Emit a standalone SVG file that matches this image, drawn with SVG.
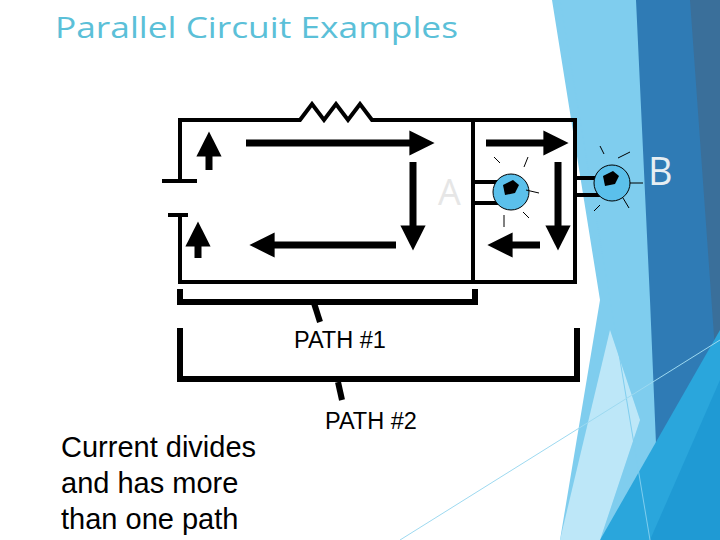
<svg xmlns="http://www.w3.org/2000/svg" width="720" height="540" viewBox="0 0 720 540">
<style>
.w{stroke:#000;stroke-width:4;fill:none}
.b{stroke:#000;stroke-width:6;fill:none}
.a{stroke:#000;stroke-width:7;fill:none}
.r{stroke:#000;stroke-width:1}
.t{font-family:"Liberation Sans",Arial,sans-serif;fill:#000}
</style>
<defs>
<marker id="h" viewBox="0 0 10 10" refX="5" refY="5" markerWidth="3.6" markerHeight="3.6" orient="auto" markerUnits="strokeWidth"><path d="M0,0L10,5L0,10z" fill="#000"/></marker>
</defs>
<rect width="720" height="540" fill="#fff"/>
<g id="background">
<polygon points="552,0 720,0 720,540 560,540 600,300" fill="#7fcdee"/>
<polygon points="636,0 720,0 720,540 660,540 650,300" fill="#2f7bb5"/>
<polygon points="690,0 720,0 720,420" fill="#3a6f9a"/>
<polygon points="720,330 720,540 600,540" fill="#2aa6dc"/>
<polygon points="720,380 720,540 650,540" fill="#1f9ad4"/>
<polygon points="610,330 640,420 600,540 560,540" fill="#cdeefa" opacity="0.8"/>
<line x1="560" y1="0" x2="650" y2="540" stroke="#7fcdee" stroke-width="1"/>
<line x1="400" y1="540" x2="720" y2="340" stroke="#9dd9f0" stroke-width="1"/>
</g>
<text x="55" y="38" font-family="'Open Sans',sans-serif" font-size="30" fill="#5bc0d8" textLength="403" lengthAdjust="spacingAndGlyphs">Parallel Circuit Examples</text>
<g id="connectors">
<path class="w" d="M180,181V120H300l12,-16l12,16l12,-16l12,16l12,-16l12,16H575V282H180V215"/>
<path class="w" d="M473,120V282"/>
<line class="w" x1="162" y1="181" x2="197" y2="181"/>
<line class="w" x1="168" y1="215" x2="188" y2="215"/>
<path class="w" d="M473,182H500M473,203H500"/>
<path class="w" d="M575,178H600M575,195H600"/>
<line class="a" x1="209" y1="170" x2="209" y2="144" marker-end="url(#h)"/>
<line class="a" x1="198" y1="258" x2="198" y2="234" marker-end="url(#h)"/>
<line class="a" x1="246" y1="143" x2="422" y2="143" marker-end="url(#h)"/>
<line class="a" x1="413" y1="162" x2="413" y2="238" marker-end="url(#h)"/>
<line class="a" x1="396" y1="245" x2="262" y2="245" marker-end="url(#h)"/>
<line class="a" x1="486" y1="143" x2="556" y2="143" marker-end="url(#h)"/>
<line class="a" x1="558" y1="162" x2="558" y2="238" marker-end="url(#h)"/>
<line class="a" x1="540" y1="245" x2="500" y2="245" marker-end="url(#h)"/>
<path class="b" d="M180,289V302H475V289"/>
<path class="b" d="M314,303L320,322"/>
<path class="b" d="M180,328V379H577V328"/>
<path class="b" d="M338,382L342,400"/>
</g>
<g id="bulbA">
<circle cx="511" cy="192" r="18" fill="#5bc0eb" stroke="#000"/>
<path d="M503,185l10,-5l6,5l-4,8l-10,2z" fill="#000"/>
<path class="r" d="M494,157l6,6M528,157l-4,10M526,190l13,3M523,212l6,6M504,215v12"/>
<text x="438" y="205" font-family="'Open Sans',sans-serif" font-size="36" fill="#e6e6e6">A</text>
</g>
<g id="bulbB">
<circle cx="612" cy="183" r="18" fill="#5bc0eb" stroke="#000"/>
<path d="M603,176l10,-5l6,5l-4,8l-10,2z" fill="#000"/>
<path class="r" d="M600,146l4,8M618,158l12,-6M630,183h13M623,198l6,10M600,205l-6,6"/>
<text x="648" y="185" font-family="'Open Sans',sans-serif" font-size="38" fill="#e6eef2">B</text>
</g>
<text class="t" x="294" y="348" font-size="23.5">PATH #1</text>
<text class="t" x="325" y="429" font-size="23.5">PATH #2</text>
<text class="t" font-size="29"><tspan x="61" y="457">Current divides</tspan><tspan x="61" y="493">and has more</tspan><tspan x="61" y="529">than one path</tspan></text>
</svg>
